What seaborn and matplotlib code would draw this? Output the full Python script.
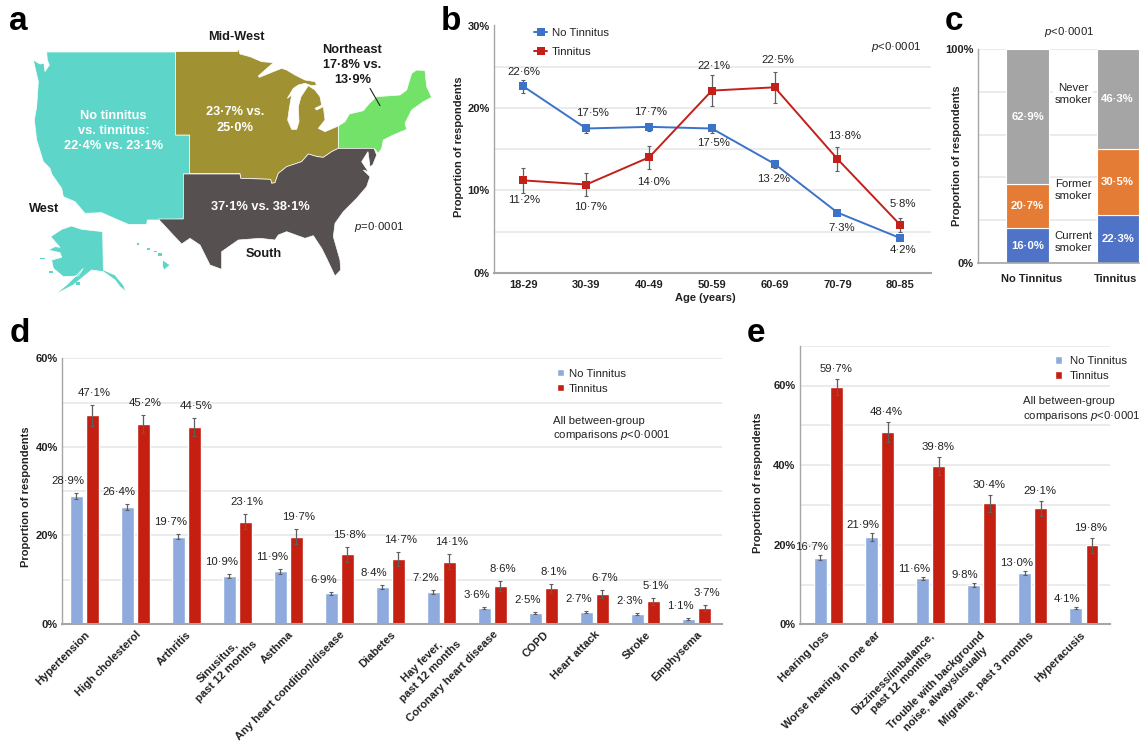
import pandas as pd
import matplotlib
matplotlib.use('Agg')
import matplotlib.pyplot as plt
import matplotlib.transforms as mtrans
import seaborn as sns

W, H = 1141, 742

# panel a, region outlines (zoomed pixel units, 3x)
west_outline = [(140,156),(527,156),(527,405),(569,405),(569,522),(550,522),(550,657),(475,660),(442,660),
                (440,673),(385,673),(350,658),(305,638),(255,640),(225,605),(190,590),(185,565),(150,515),
                (160,540),(150,505),(130,485),(110,420),(103,360),(110,320),(115,245),(108,215),(100,180),
                (120,192),(132,190),(135,215),(148,195),(142,180)]
midwest_outline = [(527,155),(712,155),(715,145),(720,162),(750,170),(785,185),(820,188),(775,228),(778,232),
                   (820,215),(845,205),(860,210),(885,225),(915,240),(945,245),(950,255),(935,257),(915,250),
                   (895,255),(880,265),(862,295),(875,285),(868,325),(863,360),(875,388),(890,388),(897,365),
                   (895,320),(903,290),(925,257),(945,270),(960,290),(965,315),(945,325),(950,330),(970,320),
                   (975,360),(955,385),(975,395),(1015,378),(1015,445),(995,455),(970,472),(952,470),(925,462),
                   (905,485),(860,500),(835,520),(825,548),(815,550),(812,538),(722,535),(720,521),(569,521),
                   (569,405),(527,405)]
northeast_outline = [(1015,378),(1035,365),(1048,342),(1090,332),(1108,310),(1130,290),(1200,285),(1220,270),
                     (1235,220),(1250,210),(1275,212),(1280,260),(1295,292),(1270,305),(1235,330),(1215,370),
                     (1220,388),(1180,405),(1150,420),(1145,445),(1135,460),(1122,445),(1015,445)]
south_outline = [(550,522),(720,522),(722,535),(812,538),(815,550),(825,548),(835,520),(860,500),(905,485),
                 (925,462),(952,470),(970,472),(995,455),(1015,445),(1122,445),(1130,465),(1118,495),(1110,500),
                 (1104,455),(1085,485),(1105,515),(1090,510),(1110,530),(1100,560),(1070,595),(1030,635),
                 (1005,670),(1000,710),(1020,780),(1022,810),(1005,828),(980,775),(965,745),(940,707),(915,715),
                 (860,695),(835,705),(825,720),(780,715),(715,720),(665,755),(665,808),(630,795),(600,735),
                 (570,715),(545,732),(515,700),(475,657),(550,657)]
alaska_outline = [(152,710),(185,688),(215,678),(245,688),(308,695),(310,810),(345,825),(370,855),(378,875),
                  (360,860),(345,840),(310,815),(275,810),(250,830),(220,855),(165,883),(200,855),(230,825),
                  (250,805),(235,828),(190,830),(160,805),(155,780),(185,772),(180,758),(145,750),(165,740),
                  (180,742)]
hawaii_outline = [(488,780),(510,795),(492,810),(488,800)]
islands = [(120,773,135,778),(148,813,158,818),(228,845,240,855),(410,730,417,735),(442,744,450,751),
           (463,753,470,757),(475,760,485,768)]

# panel b
age_groups = ['18-29', '30-39', '40-49', '50-59', '60-69', '70-79', '80-85']
age_no = [22.6, 17.5, 17.7, 17.5, 13.2, 7.3, 4.2]
age_yes = [11.2, 10.7, 14.0, 22.1, 22.5, 13.8, 5.8]
age_no_ci = [0.8, 0.5, 0.45, 0.5, 0.45, 0.3, 0.2]
age_yes_ci = [1.55, 1.4, 1.4, 1.9, 1.85, 1.45, 0.85]
age_no_off = [(0,14),(6,16),(2,14.5),(2,-14),(-1,-15),(4,-15),(3,-12)]
age_yes_off = [(1,-20),(4,-22),(5,-25),(2,25),(3,27),(7,23),(3,21)]

# panel c
smoke_groups = ['No Tinnitus', 'Tinnitus']
current_smoker = [16.0, 22.3]
former_smoker = [20.7, 30.5]
never_smoker = [62.9, 46.3]

# panel d
cond_names = ['Hypertension', 'High cholesterol', 'Arthritis', 'Sinusitus,\npast 12 months', 'Asthma',
              'Any heart condition/disease', 'Diabetes', 'Hay fever,\npast 12 months', 'Coronary heart disease',
              'COPD', 'Heart attack', 'Stroke', 'Emphysema']
cond_no = [28.9, 26.4, 19.7, 10.9, 11.9, 6.9, 8.4, 7.2, 3.6, 2.5, 2.7, 2.3, 1.1]
cond_yes = [47.1, 45.2, 44.5, 23.1, 19.7, 15.8, 14.7, 14.1, 8.6, 8.1, 6.7, 5.1, 3.7]
cond_no_ci = [0.75, 0.7, 0.55, 0.5, 0.5, 0.4, 0.45, 0.4, 0.3, 0.25, 0.3, 0.25, 0.15]
cond_yes_ci = [2.3, 2.1, 2.1, 1.7, 1.7, 1.7, 1.5, 1.6, 1.1, 1.0, 0.9, 0.8, 0.7]

# panel e
ear_names = ['Hearing loss', 'Worse hearing in one ear', 'Dizziness/imbalance,\npast 12 months',
             'Trouble with background\nnoise, always/usually', 'Migraine, past 3 months', 'Hyperacusis']
ear_no = [16.7, 21.9, 11.6, 9.8, 13.0, 4.1]
ear_yes = [59.7, 48.4, 39.8, 30.4, 29.1, 19.8]
ear_no_ci = [0.6, 1.0, 0.4, 0.5, 0.5, 0.3]
ear_yes_ci = [2.0, 2.5, 2.3, 2.2, 2.0, 1.8]

sns.set_theme(style='white')
plt.rcParams['font.family'] = ['Liberation Sans', 'DejaVu Sans']
plt.rcParams['mathtext.fontset'] = 'custom'
plt.rcParams['mathtext.it'] = 'Liberation Sans:italic'
plt.rcParams['mathtext.rm'] = 'Liberation Sans'

TXT = '#222222'
GRID = '#e9e9e9'
AXIS = '#a6a6a6'
BLUE_LINE = '#3b73c9'
RED_LINE = '#c4201a'
BAR_NO = '#8fabde'
BAR_YES = '#c41f10'
PX = 72 / 100  # points per pixel

fig = plt.figure(figsize=(W / 100, H / 100), dpi=100)


def panel(left, top, right, bottom):
    return fig.add_axes([left / W, 1 - bottom / H, (right - left) / W, (bottom - top) / H])


def label(x, y, s, **kw):
    kw.setdefault('ha', 'center')
    kw.setdefault('va', 'center')
    kw.setdefault('color', TXT)
    kw.setdefault('fontsize', 8.2)
    fig.text(x / W, 1 - y / H, s, **kw)


def style_axes(ax, major, minor, top):
    ax.set_ylim(0, top)
    ax.set_yticks(major)
    ax.set_yticklabels([f'{v}%' for v in major], fontweight='bold', fontsize=8, color=TXT)
    ax.set_yticks(minor, minor=True)
    ax.grid(True, axis='y', which='both', color=GRID, lw=1.3)
    ax.grid(False, axis='x')
    ax.set_axisbelow(True)
    ax.tick_params(which='both', length=0, pad=3)
    ax.set_xlabel('')
    ax.set_ylabel('')
    for s in ['top', 'right']:
        ax.spines[s].set_visible(False)
    ax.spines['left'].set_color(AXIS)
    ax.spines['left'].set_linewidth(1)
    ax.spines['bottom'].set_color(AXIS)
    ax.spines['bottom'].set_linewidth(1.5)


def grouped_bars(ax, names, no_vals, yes_vals, no_ci, yes_ci, xlim, no_off, yes_off):
    df = pd.DataFrame({
        'name': names * 2,
        'group': ['No Tinnitus'] * len(names) + ['Tinnitus'] * len(names),
        'value': no_vals + yes_vals,
    })
    sns.barplot(data=df, x='name', y='value', hue='group', order=names, ax=ax, width=0.63, gap=0.2,
                palette={'No Tinnitus': BAR_NO, 'Tinnitus': BAR_YES}, errorbar=None, saturation=1)
    for cont, vals, cis, off in zip(ax.containers, [no_vals, yes_vals], [no_ci, yes_ci], [no_off, yes_off]):
        for bar, v, ci in zip(cont, vals, cis):
            xc = bar.get_x() + bar.get_width() / 2
            ax.errorbar(xc, v, yerr=ci, color='#5f5f5f', lw=0.9, capsize=1.6, capthick=0.8, zorder=4)
            ax.annotate(f'{v:.1f}%'.replace('.', '·'), (xc, v + ci), xytext=(off[0] * PX, off[1] * PX),
                        textcoords='offset points', ha='center', va='center', fontsize=8.2, color=TXT)
    ax.set_xlim(*xlim)


def slanted_labels(ax, names, shift_single, shift_double):
    ax.set_xticks(range(len(names)))
    ax.set_xticklabels(names, rotation=45, ha='right', va='top', rotation_mode='anchor', fontsize=8,
                       fontweight='bold', color=TXT, multialignment='center', linespacing=1.35)
    ax.tick_params(axis='x', pad=4)
    for t in ax.get_xticklabels():
        dx = shift_double if '\n' in t.get_text() else shift_single
        t.set_transform(t.get_transform() + mtrans.ScaledTranslation(dx / 100, 0, fig.dpi_scale_trans))


# ---- a: map
ax = panel(0, 0, 440, 310)
ax.set_xlim(0, 1320)
ax.set_ylim(930, 0)
ax.axis('off')
for outline, col in [(west_outline, '#5dd5c8'), (alaska_outline, '#5dd5c8'), (hawaii_outline, '#5dd5c8'),
                     (midwest_outline, '#a09232'), (northeast_outline, '#72e368'), (south_outline, '#565050')]:
    ax.fill([p[0] for p in outline], [p[1] for p in outline], facecolor=col, lw=0.5, edgecolor='white')
for x0, y0, x1, y1 in islands:
    ax.fill([x0, x1, x1, x0], [y0, y0, y1, y1], color='#5dd5c8', lw=0)
ax.plot([1110, 1140], [265, 317], color='#222222', lw=0.8)
for x, y, s, c in [(340, 392, 'No tinnitus\nvs. tinnitus:\n22·4% vs. 23·1%', 'white'),
                   (706, 360, '23·7% vs.\n25·0%', 'white'),
                   (782, 620, '37·1% vs. 38·1%', 'white'),
                   (710, 110, 'Mid-West', '#1a1a1a'),
                   (1057, 196, 'Northeast\n17·8% vs.\n13·9%', '#1a1a1a'),
                   (132, 628, 'West', '#1a1a1a'),
                   (790, 762, 'South', '#1a1a1a')]:
    ax.text(x, y, s, color=c, ha='center', va='center', fontsize=9.2, fontweight='bold', linespacing=1.35)
ax.text(1138, 680, r'$\mathit{p}$=0·0001', ha='center', va='center', fontsize=8.2, color=TXT)

# ---- b: age groups
ax = panel(493.6, 25.5, 931, 272.7)
age_df = pd.DataFrame({'age': age_groups * 2,
                       'group': ['No Tinnitus'] * 7 + ['Tinnitus'] * 7,
                       'value': age_no + age_yes})
sns.lineplot(data=age_df, x='age', y='value', hue='group', style='group', ax=ax, errorbar=None,
             palette={'No Tinnitus': BLUE_LINE, 'Tinnitus': RED_LINE}, markers={'No Tinnitus': 's', 'Tinnitus': 's'},
             dashes=False, lw=1.4, markersize=5.5, markeredgewidth=0, zorder=5)
for vals, cis, offs in [(age_no, age_no_ci, age_no_off), (age_yes, age_yes_ci, age_yes_off)]:
    for i, (v, ci, o) in enumerate(zip(vals, cis, offs)):
        ax.errorbar(i, v, yerr=ci, color='#5f5f5f', lw=0.9, capsize=1.6, capthick=0.8, zorder=4)
        ax.annotate(f'{v:.1f}%'.replace('.', '·'), (i, v), xytext=(o[0] * PX, o[1] * PX),
                    textcoords='offset points', ha='center', va='center', fontsize=8.2, color=TXT)
style_axes(ax, [0, 10, 20, 30], [5, 15, 25], 30)
ax.set_xlim(-0.476, 6.49)
ax.set_xticks(range(7))
ax.set_xticklabels(age_groups, fontweight='bold', fontsize=8, color=TXT)
ax.tick_params(axis='x', pad=5)
h, l = ax.get_legend_handles_labels()
ax.legend(h, l, loc='upper left', bbox_to_anchor=(0.07, 1.03), frameon=False, fontsize=8.2, handlelength=1.1,
          labelspacing=0.75, handletextpad=0.4, labelcolor=TXT)
label(921, 47, r'$\mathit{p}$<0·0001', ha='right')
label(459, 147, 'Proportion of respondents', rotation=90, fontweight='bold', fontsize=8)
label(705, 298, 'Age (years)', fontweight='bold', fontsize=8)

# ---- c: smoking, the printed shares are rescaled so each stack fills the axis
ax = panel(978, 49.3, 1138.6, 262.7)
smoke_df = pd.DataFrame({'group': smoke_groups, 'current': current_smoker,
                         'former': former_smoker, 'never': never_smoker})
total = smoke_df[['current', 'former', 'never']].sum(axis=1)
base = pd.Series([0.0, 0.0])
for col, colr in [('current', '#4f74c7'), ('former', '#e47c36'), ('never', '#a5a5a5')]:
    hgt = smoke_df[col] / total * 100
    sns.barplot(x=smoke_df['group'], y=hgt, bottom=base.values, ax=ax, color=colr, width=0.466, saturation=1,
                edgecolor='white', linewidth=0.8, errorbar=None, order=smoke_groups)
    for i in range(2):
        ax.text(i, base[i] + hgt[i] / 2, f'{smoke_df[col][i]:.1f}%'.replace('.', '·'), color='white',
                ha='center', va='center', fontsize=8.2, fontweight='bold', zorder=6)
    base = base + hgt
style_axes(ax, [0, 100], [20, 40, 60, 80], 100)
ax.spines['bottom'].set_linewidth(1.2)
ax.set_xlim(-0.549, 1.232)
ax.set_xticks([])
for y, s in [(79, 'Never\nsmoker'), (34, 'Former\nsmoker'), (9.7, 'Current\nsmoker')]:
    ax.text(0.504, y, s, ha='center', va='center', fontsize=8.2, color=TXT, linespacing=1.25,
            bbox=dict(fc='white', ec='none', pad=1))
label(1031.5, 279, 'No Tinnitus', fontweight='bold', fontsize=8)
label(1116, 279, 'Tinnitus', fontweight='bold', fontsize=8)
label(1068.6, 32, r'$\mathit{p}$<0·0001')
label(957, 156, 'Proportion of respondents', rotation=90, fontweight='bold', fontsize=8)

# ---- d: conditions
ax = panel(62, 358.3, 722, 624)
grouped_bars(ax, cond_names, cond_no, cond_yes, cond_no_ci, cond_yes_ci, (-0.435, 12.5), (-8, 12), (2, 12))
style_axes(ax, [0, 20, 40, 60], [10, 30, 50], 60)
slanted_labels(ax, cond_names, 0, 6)
h, l = ax.get_legend_handles_labels()
ax.legend(h, l, loc='upper left', bbox_to_anchor=(0.735, 1.0), frameon=False, fontsize=8.2, handlelength=0.6,
          handleheight=0.6, labelspacing=0.45, handletextpad=0.4, labelcolor=TXT)
label(553, 429, 'All between-group\ncomparisons $\\mathit{p}$<0·0001', ha='left', linespacing=1.3)
label(26, 497, 'Proportion of respondents', rotation=90, fontweight='bold', fontsize=8)

# ---- e: ear and related symptoms
ax = panel(799.7, 345.7, 1110, 624.3)
grouped_bars(ax, ear_names, ear_no, ear_yes, ear_no_ci, ear_yes_ci, (-0.564, 5.51), (-8.5, 8), (-1, 10))
style_axes(ax, [0, 20, 40, 60], [10, 30, 50, 70], 70)
slanted_labels(ax, ear_names, -4, -2)
h, l = ax.get_legend_handles_labels()
ax.legend(h, l, loc='upper left', bbox_to_anchor=(0.79, 1.0), frameon=False, fontsize=8.2, handlelength=0.6,
          handleheight=0.6, labelspacing=0.45, handletextpad=0.7, labelcolor=TXT)
label(1023, 409.5, 'All between-group\ncomparisons $\\mathit{p}$<0·0001', ha='left', linespacing=1.3)
label(758, 483, 'Proportion of respondents', rotation=90, fontweight='bold', fontsize=8)

# panel letters
for x, y, s in [(18, 22, 'a'), (451, 22, 'b'), (954, 22, 'c'), (20, 333, 'd'), (756, 334, 'e')]:
    label(x, y, s, fontsize=24, fontweight='bold', color='black')

fig.savefig('out.png', dpi=100)
